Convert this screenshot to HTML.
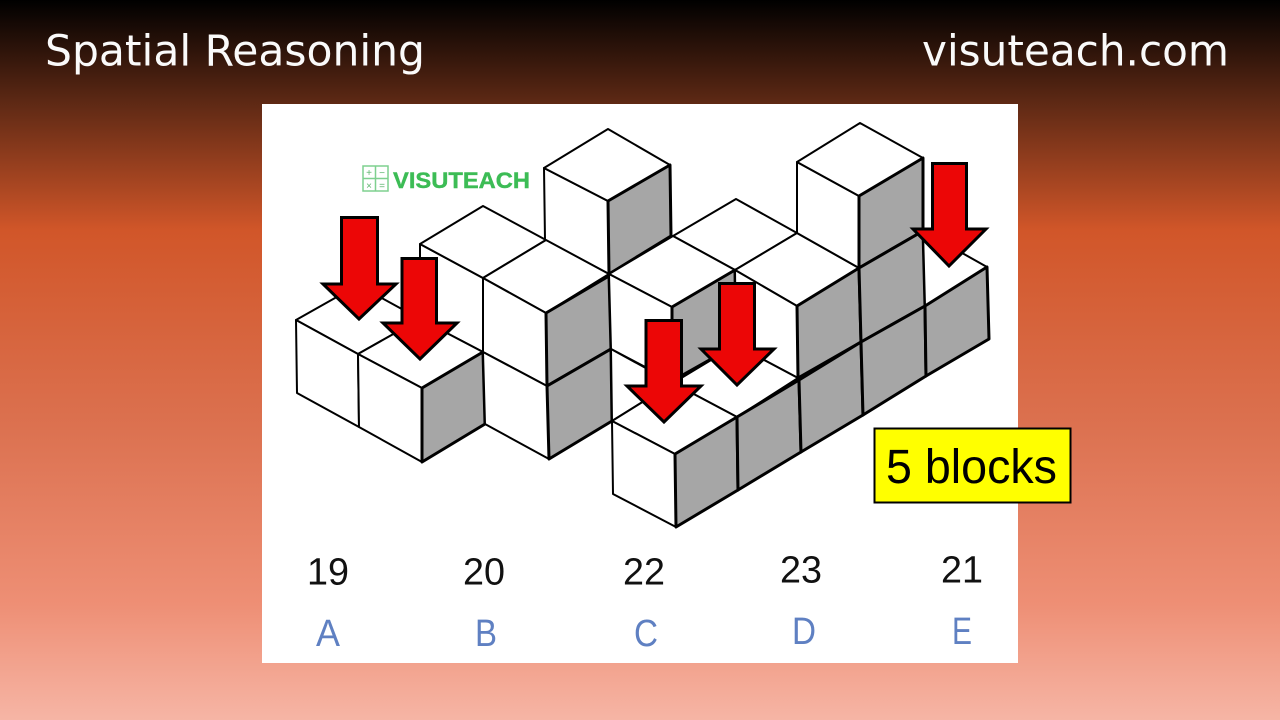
<!DOCTYPE html>
<html><head><meta charset="utf-8"><style>
html,body{margin:0;padding:0;width:1280px;height:720px;overflow:hidden}
svg{display:block}
.w{fill:#fff;stroke:#000;stroke-width:2;stroke-linejoin:round}
.g{fill:#a6a6a6;stroke:#000;stroke-width:3;stroke-linejoin:round}
.a{fill:#ec0606;stroke:#000;stroke-width:3;stroke-linejoin:miter;stroke-miterlimit:8}
.n{font-family:"Liberation Sans",sans-serif;font-size:38px;fill:#111}
.l{font-family:"Liberation Sans",sans-serif;font-size:38px;fill:#5f80c2}
.t{font-family:"DejaVu Sans",sans-serif;font-size:43px;fill:#fafafa}
</style></head><body>
<svg width="1280" height="720" viewBox="0 0 1280 720" xmlns="http://www.w3.org/2000/svg">
<defs><linearGradient id="bg" x1="0" y1="0" x2="0" y2="1">
<stop offset="0" stop-color="#000"/>
<stop offset="0.14" stop-color="#5c2814"/>
<stop offset="0.32" stop-color="#d15629"/>
<stop offset="0.6" stop-color="#dc7251"/>
<stop offset="0.84" stop-color="#ee8f75"/>
<stop offset="1" stop-color="#f6b5a5"/>
</linearGradient></defs>
<rect width="1280" height="720" fill="url(#bg)"/>
<text class="t" x="45" y="65.500" textLength="380" lengthAdjust="spacingAndGlyphs">Spatial Reasoning</text>
<text class="t" x="922" y="65.500" textLength="307" lengthAdjust="spacingAndGlyphs">visuteach.com</text>
<rect x="262" y="104" width="756" height="559" fill="#fff"/>

<!-- logo -->
<g fill="none" stroke="#7fd08f" stroke-width="1.500">
<rect x="363" y="166" width="25" height="25"/>
<path d="M375.500 166V191M363 178.500H388"/>
</g>
<g font-family="Liberation Sans,sans-serif" font-size="10" fill="#5fb56f" text-anchor="middle">
<text x="369" y="176">+</text><text x="382" y="176">−</text><text x="369" y="189">×</text><text x="382" y="189">=</text>
</g>
<text x="393" y="188" font-family="Liberation Sans,sans-serif" font-weight="bold" font-size="22" fill="#3cbc55" stroke="#3cbc55" stroke-width="0.400" textLength="137" lengthAdjust="spacingAndGlyphs">VISUTEACH</text>

<!-- back-left stack -->
<polygon class="w" points="420,244 483,278 483,352 420,319"/>
<polygon class="w" points="420,244 483,206 546,240 483,278"/>

<!-- left tower -->
<polygon class="w" points="544,168 608,201 609,274 545,240"/>
<polygon class="w" points="544,168 608,129 670,165 608,201"/>
<polygon class="g" points="608,201 670,165 671,236 609,274"/>

<!-- left low blocks -->
<polygon class="w" points="296,320 358,285 420,319 358,354"/>
<polygon class="w" points="358,354 420,319 483,352 422,388"/>
<polygon class="w" points="296,320 358,354 359,427 297,393"/>
<polygon class="w" points="358,354 422,388 422,462 359,427"/>
<polygon class="g" points="422,388 483,352 485,424 422,462"/>

<!-- front stack (middle left) -->
<polygon class="w" points="483,278 546,240 609,274 546,313"/>
<polygon class="w" points="483,278 546,313 547,386 483,352"/>
<polygon class="w" points="483,352 547,386 549,459 485,424"/>
<polygon class="g" points="546,313 609,276 611,349 547,386"/>
<polygon class="g" points="547,386 611,349 612,421 549,459"/>

<!-- centre -->
<polygon class="w" points="673,236 736,199 797,233 735,270"/>
<polygon class="w" points="609,274 673,236 735,270 672,307"/>
<polygon class="w" points="609,274 672,307 672,381 611,349"/>
<polygon class="g" points="672,307 735,270 736,345 672,381"/>
<polygon class="w" points="611,349 673,383 612,421"/>
<polygon class="w" points="735,270 797,233 859,268 797,306"/>
<polygon class="w" points="735,270 797,306 798,378 736,345"/>

<!-- right tower -->
<polygon class="w" points="797,162 859,196 859,268 797,233"/>
<polygon class="w" points="797,162 860,123 923,158 859,196"/>
<polygon class="g" points="859,196 923,158 923,231 859,268"/>

<!-- upper grey wall -->
<polygon class="g" points="797,306 859,268 861,342 798,378"/>
<polygon class="g" points="859,268 923,231 925,306 861,342"/>
<polygon class="w" points="923,231 987,267 925,306"/>

<!-- front row -->
<polygon class="w" points="673,383 736,345 798,378 737,417"/>
<polygon class="w" points="612,421 673,383 737,417 675,454"/>
<polygon class="w" points="612,421 675,454 676,527 613,494"/>
<polygon class="g" points="675,454 737,417 738,490 676,527"/>
<polygon class="g" points="737,417 799,380 801,452 738,490"/>
<polygon class="g" points="799,380 861,342 863,415 801,452"/>
<polygon class="g" points="861,342 925,306 926,376 863,415"/>
<polygon class="g" points="925,306 987,267 989,339 926,376"/>

<!-- arrows -->
<polygon class="a" points="341.500,217.500 377.500,217.500 377.500,284 396,284 359,319 323,284 341.500,284"/>
<polygon class="a" points="402,258.500 436.500,258.500 436.500,323 457,323 420,359 383,323 402,323"/>
<polygon class="a" points="646,320.500 681.500,320.500 681.500,386 701,386 664,422 627,386 646,386"/>
<polygon class="a" points="719.500,283.500 754.500,283.500 754.500,349 774,349 737,385 701,349 719.500,349"/>
<polygon class="a" points="932.500,163.500 966.500,163.500 966.500,229 986,229 949,266 913,229 932.500,229"/>

<!-- yellow label -->
<rect x="874.500" y="428.500" width="196" height="74" fill="#ff0" stroke="#000" stroke-width="2"/>
<text x="886" y="483" font-family="Liberation Sans,sans-serif" font-size="48" fill="#000" textLength="171" lengthAdjust="spacingAndGlyphs">5 blocks</text>

<!-- answers -->
<text class="n" x="307" y="584.500" textLength="42" lengthAdjust="spacingAndGlyphs">19</text>
<text class="n" x="463" y="584.500" textLength="42" lengthAdjust="spacingAndGlyphs">20</text>
<text class="n" x="623" y="584.500" textLength="42" lengthAdjust="spacingAndGlyphs">22</text>
<text class="n" x="780" y="582.500" textLength="42" lengthAdjust="spacingAndGlyphs">23</text>
<text class="n" x="941" y="582.500" textLength="42" lengthAdjust="spacingAndGlyphs">21</text>
<text class="l" x="316" y="646" textLength="24" lengthAdjust="spacingAndGlyphs">A</text>
<text class="l" x="475" y="646" textLength="22" lengthAdjust="spacingAndGlyphs">B</text>
<text class="l" x="634" y="646" textLength="24" lengthAdjust="spacingAndGlyphs">C</text>
<text class="l" x="792" y="644" textLength="24" lengthAdjust="spacingAndGlyphs">D</text>
<text class="l" x="952" y="644" textLength="20" lengthAdjust="spacingAndGlyphs">E</text>
</svg>
</body></html>
